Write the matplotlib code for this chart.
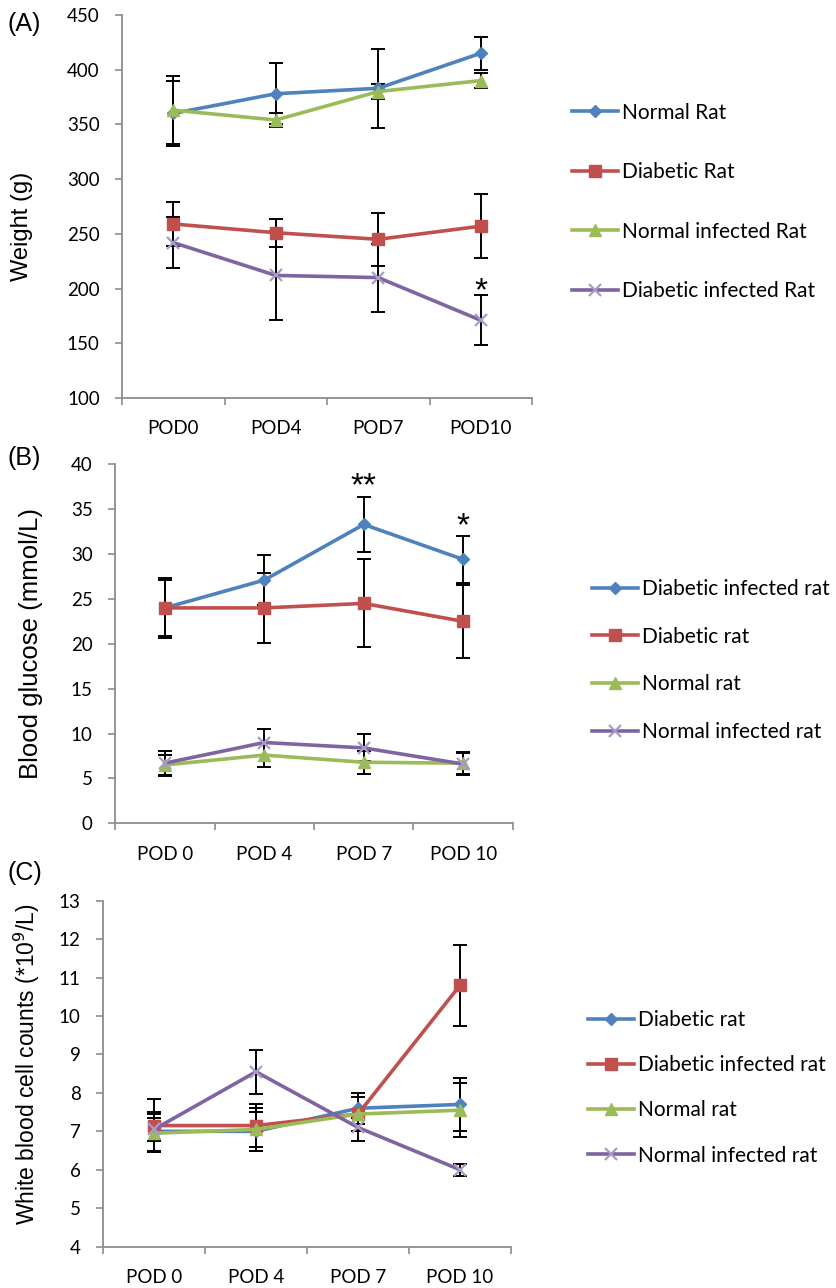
import matplotlib
matplotlib.use('Agg')
import matplotlib.pyplot as plt

plt.rcParams['font.family'] = ['Lato', 'DejaVu Sans']

pod_a = ['POD0', 'POD4', 'POD7', 'POD10']
pod_bc = ['POD 0', 'POD 4', 'POD 7', 'POD 10']

# (A) body weight (g)
a_labels = ['Normal Rat', 'Diabetic Rat', 'Normal infected Rat', 'Diabetic infected Rat']
a_normal = [360, 378, 383, 415]
a_normal_err = [30, 28, 36, 15]
a_diab = [259, 251, 245, 257]
a_diab_err = [20, 13, 24, 29]
a_ninf = [363, 354, 380, 390]
a_ninf_err = [31, 6, 7, 7]
a_dinf = [242, 212, 210, 171]
a_dinf_err = [23, 41, 31, 23]

# (B) blood glucose (mmol/L)
b_labels = ['Diabetic infected rat', 'Diabetic rat', 'Normal rat', 'Normal infected rat']
b_dinf = [24.0, 27.1, 33.3, 29.4]
b_dinf_err = [3.3, 2.8, 3.1, 2.6]
b_diab = [24.0, 24.0, 24.5, 22.5]
b_diab_err = [3.1, 3.9, 4.9, 4.1]
b_norm = [6.5, 7.6, 6.8, 6.7]
b_norm_err = [1.1, 1.3, 1.3, 1.2]
b_ninf = [6.7, 9.0, 8.4, 6.6]
b_ninf_err = [1.4, 1.5, 1.5, 1.2]

# (C) white blood cell counts (*10^9/L)
c_labels = ['Diabetic rat', 'Diabetic infected rat', 'Normal rat', 'Normal infected rat']
c_diab = [7.0, 7.0, 7.6, 7.7]
c_diab_err = [0.5, 0.5, 0.4, 0.7]
c_dinf = [7.15, 7.15, 7.45, 10.8]
c_dinf_err = [0.68, 0.55, 0.1, 1.05]
c_norm = [6.95, 7.05, 7.45, 7.55]
c_norm_err = [0.5, 0.55, 0.45, 0.7]
c_ninf = [7.05, 8.55, 7.1, 6.0]
c_ninf_err = [0.3, 0.57, 0.35, 0.15]

blue, red, green, purple = '#4F81BD', '#C0504D', '#9BBB59', '#8064A2'
styles = [(blue, 'D', 6.5), (red, 's', 8), (green, '^', 8), (purple, 'x', 8)]

fig = plt.figure(figsize=(8.37, 12.88), dpi=100)


def panel(rect, cats, series, labels, ylim, yticks, ylabel, lab_fs, lab_xy, leg_xy, spacing):
    ax = fig.add_axes(rect)
    x = list(range(len(cats)))
    handles = []
    for (vals, err), (col, mk, ms) in zip(series, styles):
        ax.errorbar(x, vals, yerr=err, fmt='none', ecolor='black', elinewidth=1.4,
                    capsize=5, capthick=1.4, zorder=2)
        h, = ax.plot(x, vals, color=col, lw=2.6, marker=mk, ms=ms,
                     mfc=col if mk != 'x' else 'none', mec=col if mk != 'x' else '#A99BC8',
                     mew=1.0 if mk != 'x' else 1.6, zorder=3)
        handles.append(h)
    ax.set_xlim(-0.5, len(cats) - 0.5)
    ax.set_ylim(*ylim)
    ax.set_yticks(yticks)
    ax.set_xticks(x)
    ax.set_xticklabels(cats)
    ax.set_xticks([i - 0.5 for i in range(len(cats) + 1)], minor=True)
    ax.tick_params(axis='x', which='major', length=0, pad=16, labelsize=13.5)
    ax.tick_params(axis='x', which='minor', length=5, width=1.2, color='#8C8C8C', direction='out')
    ax.tick_params(axis='y', length=5, width=1.2, color='#8C8C8C', pad=11, labelsize=13.5)
    for s in ['top', 'right']:
        ax.spines[s].set_visible(False)
    for s in ['left', 'bottom']:
        ax.spines[s].set_color('#8C8C8C')
        ax.spines[s].set_linewidth(1.3)
    ax.set_ylabel(ylabel, fontsize=lab_fs, family=['Liberation Sans', 'DejaVu Sans'])
    ax.yaxis.set_label_coords(*lab_xy)
    ax.legend(handles, labels, loc='center left', bbox_to_anchor=leg_xy,
              bbox_transform=fig.transFigure, frameon=False, fontsize=15,
              handlelength=2.2, handletextpad=0.2, labelspacing=spacing,
              borderpad=0, borderaxespad=0)
    return ax


def star(ax, x, y, s, fs=24):
    # asterisk glyph sits high in the em box: shift baseline so its middle is at y
    ax.annotate(s, xy=(x, y), xytext=(0, -0.58 * fs), textcoords='offset points',
                ha='center', va='baseline', fontsize=fs, family=['Liberation Sans'])


ax_a = panel([0.1458, 0.6910, 0.4898, 0.2974], pod_a,
             [(a_normal, a_normal_err), (a_diab, a_diab_err), (a_ninf, a_ninf_err), (a_dinf, a_dinf_err)],
             a_labels, (100, 450), range(100, 451, 50), 'Weight (g)', 17,
             (-0.217, 0.449), (0.6834, 0.8432), 1.9)
star(ax_a, 3, 207, '*')

ax_b = panel([0.1374, 0.3608, 0.4755, 0.2787], pod_bc,
             [(b_dinf, b_dinf_err), (b_diab, b_diab_err), (b_norm, b_norm_err), (b_ninf, b_ninf_err)],
             b_labels, (0, 40), range(0, 41, 5), 'Blood glucose (mmol/L)', 18.5,
             (-0.181, 0.5), (0.7073, 0.4872), 1.33)
star(ax_b, 2, 38.7, '**')
star(ax_b, 3, 34.2, '*')

ax_c = panel([0.1231, 0.0321, 0.4875, 0.2686], pod_bc,
             [(c_diab, c_diab_err), (c_dinf, c_dinf_err), (c_norm, c_norm_err), (c_ninf, c_ninf_err)],
             c_labels, (4, 13), range(4, 14), 'White blood cell counts (*10$^9$/L)', 16.5,
             (-0.150, 0.528), (0.7025, 0.1555), 1.21)

for txt, y in [('(A)', 24), ('(B)', 458), ('(C)', 873)]:
    fig.text(8 / 837, 1 - y / 1288, txt, ha='left', va='center', fontsize=18,
             family=['Liberation Sans', 'DejaVu Sans'])

fig.savefig('out.png', dpi=100)
